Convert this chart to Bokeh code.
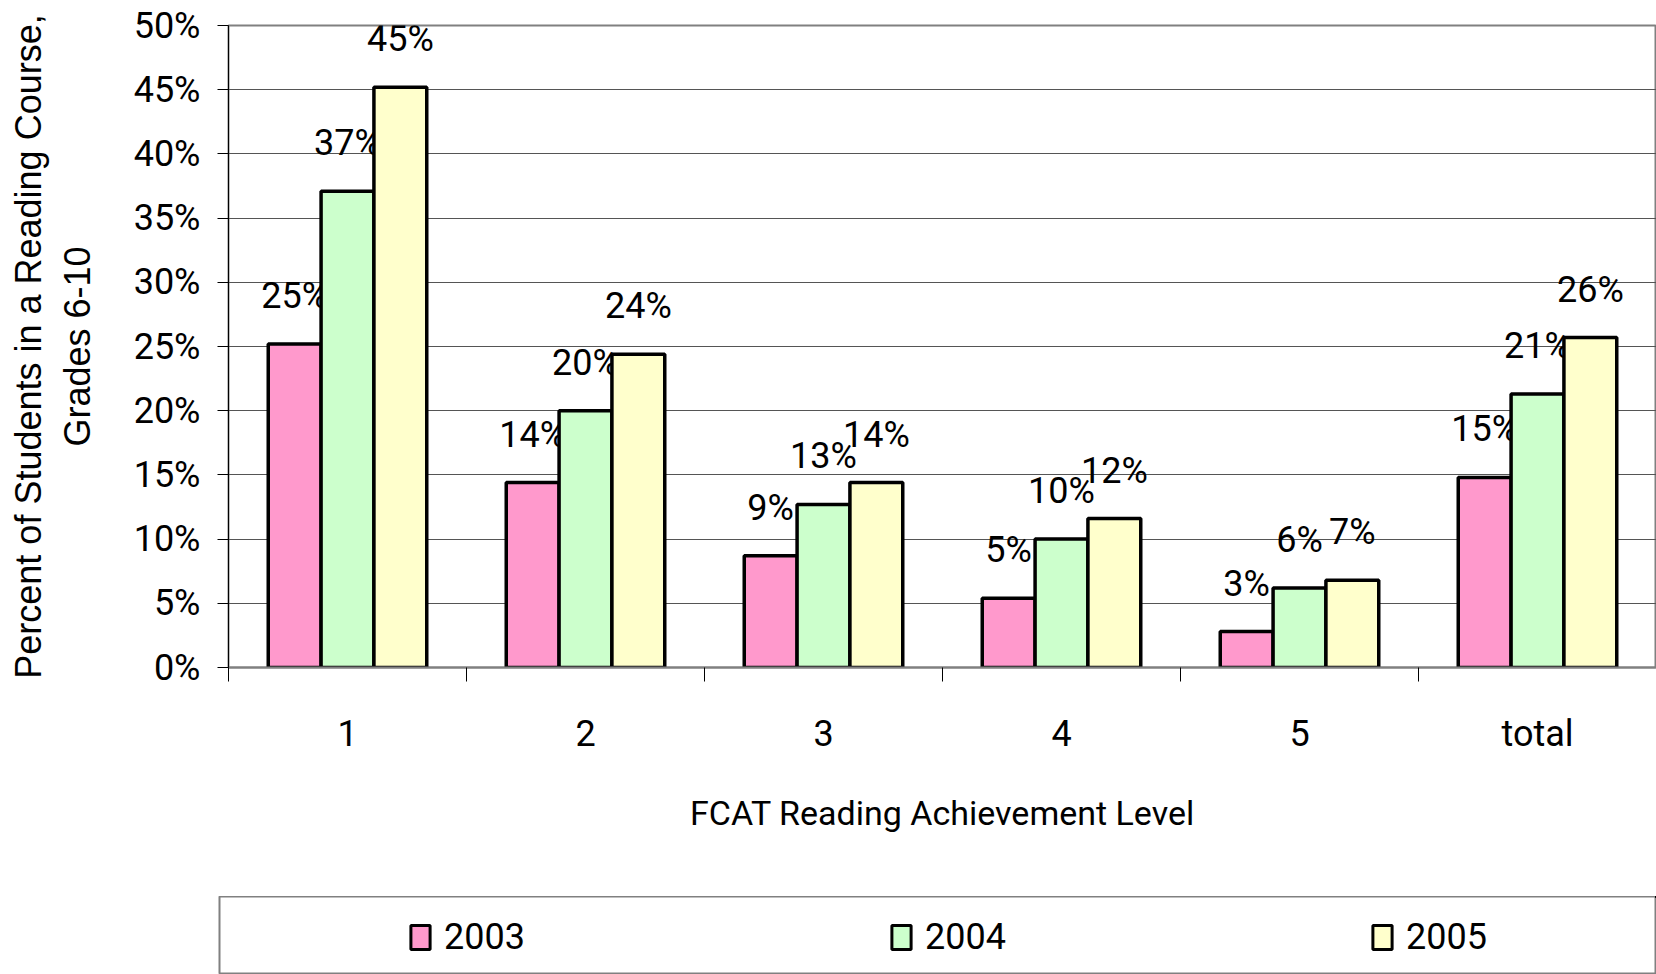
import numpy as np
from bokeh.plotting import figure
from bokeh.layouts import column
from bokeh.models import (ColumnDataSource, Range1d, FixedTicker, PrintfTickFormatter,
                          Legend, LegendItem)
from bokeh.transform import dodge
from bokeh.core.properties import value
from bokeh.embed import file_html
from bokeh.resources import INLINE

# ---- data ----
categories = ["1", "2", "3", "4", "5", "total"]
series_names = ["2003", "2004", "2005"]
values_2003 = [25.2, 14.4, 8.7, 5.4, 2.8, 14.8]
values_2004 = [37.1, 20.0, 12.7, 10.0, 6.2, 21.3]
values_2005 = [45.2, 24.4, 14.4, 11.6, 6.8, 25.7]
y_ticks = [0, 5, 10, 15, 20, 25, 30, 35, 40, 45, 50]

colors = ["#FF99CC", "#CCFFCC", "#FFFFCC"]
NARROW = "Roboto"

n = len(categories)
xs = list(np.arange(n) + 0.5)

p = figure(width=1656, height=896, output_backend="svg", toolbar_location=None,
           x_range=Range1d(0, n), y_range=Range1d(0, 50),
           min_border_left=228, min_border_top=25, min_border_right=0, min_border_bottom=229)
p.frame_align = False
p.background_fill_color = "white"
p.border_fill_color = "white"
p.outline_line_color = "#808080"
p.outline_line_width = 2

# grid
p.xgrid.grid_line_color = None
p.ygrid.grid_line_color = "#555555"
p.ygrid.grid_line_width = 1
p.ygrid.ticker = FixedTicker(ticks=y_ticks)

# y axis
p.yaxis.ticker = FixedTicker(ticks=y_ticks)
p.yaxis.formatter = PrintfTickFormatter(format="%d%%")
p.yaxis.major_label_text_font = NARROW
p.yaxis.major_label_text_font_size = "36px"
p.yaxis.major_label_text_color = "black"
p.yaxis.major_label_standoff = 17
p.yaxis.major_tick_out = 11
p.yaxis.major_tick_in = 0
p.yaxis.major_tick_line_color = "black"
p.yaxis.minor_tick_line_color = None
p.yaxis.axis_line_color = "black"
p.yaxis.axis_line_width = 1
p.yaxis.axis_label = "Percent of Students in a Reading Course,\nGrades 6-10"
p.yaxis.axis_label_text_font = "Liberation Sans"
p.yaxis.axis_label_text_font_size = "36px"
p.yaxis.axis_label_text_font_style = "normal"
p.yaxis.axis_label_text_color = "black"
p.yaxis.axis_label_text_line_height = 1.19
p.yaxis.axis_label_standoff = 33

# x axis: labels at category centres, tick marks at category boundaries
p.xaxis.ticker = FixedTicker(ticks=xs, minor_ticks=list(range(n + 1)))
p.xaxis.major_label_overrides = {float(x): c for x, c in zip(xs, categories)}
p.xaxis.major_label_text_font = NARROW
p.xaxis.major_label_text_font_size = "36px"
p.xaxis.major_label_text_color = "black"
p.xaxis.major_tick_out = 0
p.xaxis.major_tick_in = 0
p.xaxis.major_tick_line_color = None
p.xaxis.minor_tick_out = 14
p.xaxis.minor_tick_in = 0
p.xaxis.minor_tick_line_color = "black"
p.xaxis.major_label_standoff = 31
p.xaxis.axis_line_color = "#808080"
p.xaxis.axis_line_width = 2
p.xaxis.axis_label = "FCAT Reading Achievement Level"
p.xaxis.axis_label_text_font = NARROW
p.xaxis.axis_label_text_font_size = "34px"
p.xaxis.axis_label_text_font_style = "normal"
p.xaxis.axis_label_text_color = "black"
p.xaxis.axis_label_standoff = 35

# bars + labels
bar_w = 0.222
offsets = [-bar_w, 0.0, bar_w]
all_vals = [values_2003, values_2004, values_2005]
sources = []
for name, vals, col, off in zip(series_names, all_vals, colors, offsets):
    src = ColumnDataSource(dict(x=xs, top=vals, lab=[f"{round(v)}%" for v in vals]))
    sources.append(src)
    p.vbar(x=dodge("x", off, range=p.x_range), top="top", bottom=0, width=bar_w, source=src,
           fill_color=col, line_color="black", line_width=3.5)
    p.text(x=dodge("x", off, range=p.x_range), y="top", text="lab", source=src,
           text_font=value(NARROW), text_font_size="36px", text_color="black",
           text_align="center", text_baseline="middle", y_offset=-48)

# ---- legend strip (its frame is the legend box) ----
# ranges chosen so the series bars fall far outside this strip: they only serve as swatches
p2 = figure(width=1656, height=78, output_backend="svg", toolbar_location=None,
            x_range=Range1d(-20, -10), y_range=Range1d(-200, -100),
            min_border_left=219, min_border_top=0, min_border_right=0, min_border_bottom=0)
p2.frame_align = False
p2.xaxis.visible = False
p2.yaxis.visible = False
p2.grid.visible = False
p2.outline_line_color = "#808080"
p2.outline_line_width = 2
p2.background_fill_color = "white"
p2.border_fill_color = "white"

items = []
for name, col, src in zip(series_names, colors, sources):
    r = p2.vbar(x="x", top="top", bottom=0, width=bar_w, source=src,
                fill_color=col, line_color="black", line_width=3)
    items.append(LegendItem(label=name, renderers=[r]))

legend = Legend(items=items, orientation="horizontal", location=(189, 16),
                padding=0, spacing=0, glyph_width=24, glyph_height=30,
                label_standoff=12, label_width=445, label_height=40,
                label_text_font=NARROW, label_text_font_size="36px",
                label_text_color="black", label_text_baseline="middle",
                border_line_color=None, background_fill_alpha=0)
p2.add_layout(legend, "center")

layout = column(p, p2, spacing=0)
open("out.html", "w").write(file_html(layout, INLINE))
